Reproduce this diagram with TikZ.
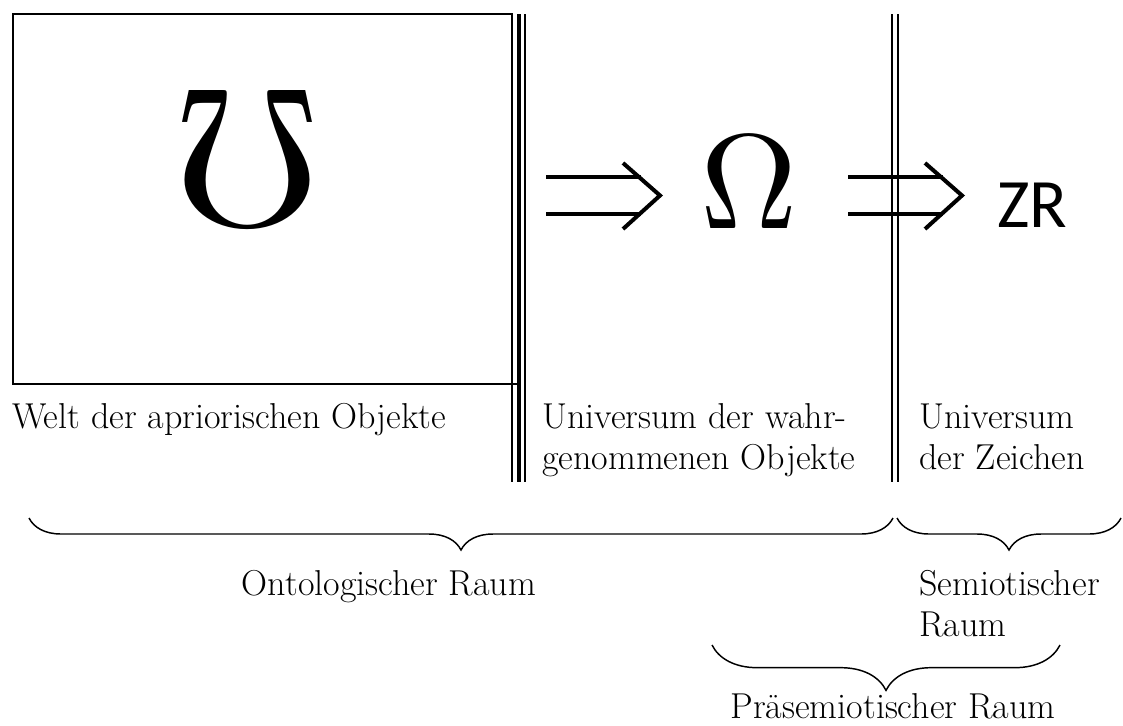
\documentclass[tikz,border=0pt]{standalone}
\usepackage{fontspec}
\newfontfamily\zrfont{Carlito}
\usetikzlibrary{decorations.pathreplacing}
\tikzset{lbl/.style={anchor=base west, inner sep=0pt, align=left,
		font=\fontsize{27}{30.5}\selectfont},
	klammer/.style={decorate, decoration={brace, mirror, amplitude=#1}, line width=1.1pt},
	duenn/.style={line width=0.8pt},
	pfeil/.style={line width=3pt}}

\begin{document}
\begin{tikzpicture}[x=0.75pt, y=-0.75pt]
		\useasboundingbox (0,0) rectangle (1123,725);
		% Kasten und Trennlinien
		\draw[duenn] (13,14) rectangle (512,384);
		\draw[duenn] (512,384) -- (519,384);
		\draw[duenn] (512,14) -- (512,482);
		\draw[line width=3pt] (519,14) -- (519,482);
		\draw[duenn] (525,14) -- (525,482);
		\draw[duenn] (892,14) -- (892,482);
		\draw[duenn] (898,14) -- (898,482);
		% Zeichen
		\node[inner sep=0pt] (upsilon) at (247,157.5) {\rotatebox{180}{\scalebox{15.4}[14.8]{$\Omega$}}};
		\node[inner sep=0pt, anchor=base] (omega) at (749.5,228) {\scalebox{10.1}{$\Omega$}};
		\node[inner sep=0pt, anchor=base west] (zr) at (997,227) {\zrfont\fontsize{52}{52}\selectfont ZR};
		% Doppelpfeile
		\foreach \s in {0,302}{
			\begin{scope}[shift={(\s,0)}]
				\draw[pfeil] (546,177) -- (641,177) (546,214) -- (641,214);
				\draw[pfeil, line join=miter] (623,163) -- (660,195.5) -- (623,229);
			\end{scope}
		}
		% Beschriftungen (base = letzte Zeile)
		\node[lbl] (welt) at (12,428) {Welt der apriorischen Objekte};
		\node[lbl] (wahr) at (542,469) {Universum der wahr-\\genommenen Objekte};
		\node[lbl] (zeichen) at (919,469) {Universum\\der Zeichen};
		\node[lbl, anchor=base] (onto) at (389,595) {Ontologischer Raum};
		\node[lbl] (semio) at (919,636) {Semiotischer\\Raum};
		\node[lbl, anchor=base] (praes) at (893,718) {Präsemiotischer Raum};
		% Klammern
		\coordinate (k1a) at (29,518);
		\coordinate (k1b) at (893,518);
		\coordinate (k2a) at (897,518);
		\coordinate (k2b) at (1121,518);
		\coordinate (k3a) at (712,645);
		\coordinate (k3b) at (1060,645);
		\draw[klammer=24pt] (k1a) -- (k1b);
		\draw[klammer=24pt] (k2a) -- (k2b);
		\draw[klammer=34pt] (k3a) -- (k3b);
\end{tikzpicture}
\end{document}
